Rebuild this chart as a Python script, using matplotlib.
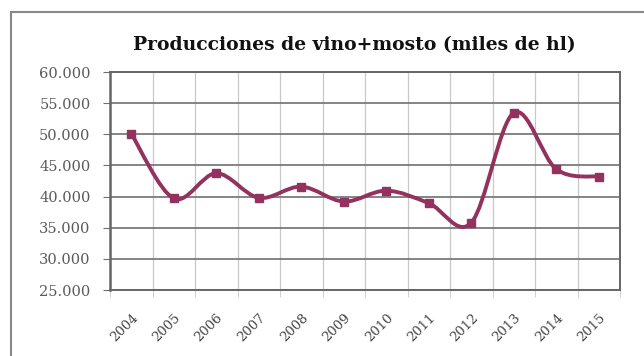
import numpy as np
import matplotlib
matplotlib.use('Agg')
import matplotlib.pyplot as plt
import matplotlib.transforms as mtransforms
from matplotlib.path import Path
from matplotlib.patches import PathPatch, Rectangle

# datos
years = ['2004', '2005', '2006', '2007', '2008', '2009',
         '2010', '2011', '2012', '2013', '2014', '2015']
produccion = [50100, 39700, 43750, 39800, 41600, 39200,
              40950, 38950, 35800, 53450, 44400, 43200]
yticks = [25000, 30000, 35000, 40000, 45000, 50000, 55000, 60000]
ytick_labels = ['25.000', '30.000', '35.000', '40.000',
                '45.000', '50.000', '55.000', '60.000']

color = '#93325e'
plt.rcParams['font.family'] = ['DejaVu Serif']

fig = plt.figure(figsize=(6.44, 3.56), dpi=100)
fig.patch.set_facecolor('white')
# marco exterior del grafico
fig.patches.append(Rectangle((11 / 644, -0.1), 1.2, 1.1 - 12 / 356,
                             transform=fig.transFigure, fill=False,
                             edgecolor='#888888', linewidth=1.5))

ax = fig.add_axes([110 / 644, 1 - 290 / 356, 510 / 644, 218 / 356])

x = np.arange(len(years))
y = np.array(produccion, dtype=float)

# linea suavizada tipo Excel (bezier)
pts = np.column_stack([x, y])
ext = np.vstack([pts[0], pts, pts[-1]])
verts = [tuple(pts[0])]
codes = [Path.MOVETO]
for i in range(len(pts) - 1):
    p0, p1, p2, p3 = ext[i], ext[i + 1], ext[i + 2], ext[i + 3]
    c1 = p1 + (p2 - p0) / 6
    c2 = p2 - (p3 - p1) / 6
    verts += [tuple(c1), tuple(c2), tuple(p2)]
    codes += [Path.CURVE4] * 3
ax.add_patch(PathPatch(Path(verts, codes), facecolor='none',
                       edgecolor=color, linewidth=2.8, zorder=3,
                       capstyle='round', joinstyle='round'))
ax.plot(x, y, linestyle='none', marker='s', markersize=5.5,
        color=color, zorder=4)

ax.set_xlim(-0.5, len(years) - 0.5)
ax.set_ylim(25000, 60000)
ax.set_yticks(yticks)
ax.set_yticklabels(ytick_labels)
ax.set_xticks(x)
ax.set_xticklabels(years, rotation=45, ha='right', va='top',
                   rotation_mode='anchor')
ax.set_xticks(np.arange(-0.5, len(years), 1), minor=True)
offset = mtransforms.ScaledTranslation(-8 / 100, 0, fig.dpi_scale_trans)
for lab in ax.get_xticklabels():
    lab.set_transform(lab.get_transform() + offset)

ax.grid(axis='y', which='major', color='#707070', linewidth=1.2)
ax.grid(axis='x', which='minor', color='#c8c8c8', linewidth=0.9)
ax.set_axisbelow(True)

ax.tick_params(axis='x', which='major', length=0, pad=15,
               labelsize=9.5, labelcolor='#444444')
ax.tick_params(axis='x', which='minor', length=5, color='#c8c8c8')
ax.tick_params(axis='y', length=5, color='#707070', pad=9,
               labelsize=10.5, labelcolor='#5a5a5a')

for s in ax.spines.values():
    s.set_color('#666666')
    s.set_linewidth(1.4)
ax.spines['left'].set_linewidth(1.8)

fig.text(354 / 644, 1 - 45 / 356, 'Producciones de vino+mosto (miles de hl)',
         ha='center', va='center', fontsize=13.5, fontweight='bold',
         color='#111111')

fig.savefig('out.png', dpi=100)
